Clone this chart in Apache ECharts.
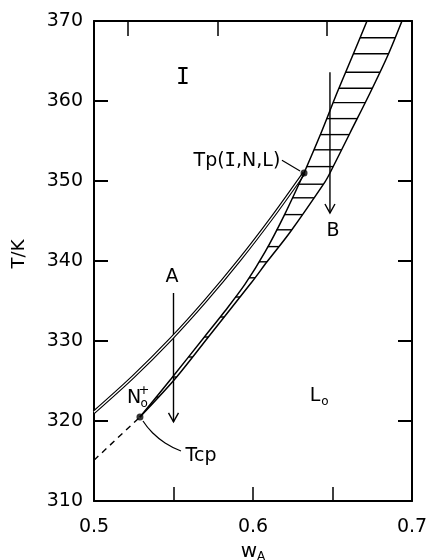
<!DOCTYPE html>
<html><head><meta charset="utf-8">
<script src="https://cdn.jsdelivr.net/npm/echarts@6/dist/echarts.min.js"></script>
<style>html,body{margin:0;padding:0;background:#fff}#c{width:427px;height:560px}</style>
</head><body><div id="c"></div>
<script>
// ---- data ----
const upperW = [0.5, 0.5245, 0.5484, 0.5698, 0.5918, 0.6119, 0.6321];
const upperT = [321.1, 325.5, 330.25, 334.95, 340.2, 345.4, 351.0];
const ilW = [0.6321, 0.6428, 0.6528, 0.6623, 0.6717];
const ilT = [351.0, 356.0, 361.0, 365.5, 370.0];
const lowerW = [0.5289, 0.5484, 0.5698, 0.5824, 0.5950, 0.6075, 0.6201, 0.6321];
const lowerT = [320.5, 325.25, 330.6, 333.75, 337.1, 341.1, 345.9, 351.0];
const rightW = [0.5289, 0.5509, 0.5723, 0.5994, 0.6088, 0.6233, 0.6453, 0.6484, 0.6610, 0.6736, 0.6849, 0.6937];
const rightT = [320.5, 325.25, 330.6, 337.4, 339.9, 343.6, 349.9, 351.0, 356.0, 361.0, 365.75, 370.0];
const dashW = [0.5, 0.5289];
const dashT = [315.1, 320.5];
const tcpLeaderW = [0.5308, 0.5365, 0.5447, 0.5547];
const tcpLeaderT = [320.0, 318.6, 317.25, 316.25];
const tpLeaderW = [0.6182, 0.6296];
const tpLeaderT = [352.6, 351.25];
const pointW = [0.5289, 0.6321];
const pointT = [320.5, 351.0];
const hatchT = [323, 325.5, 328, 330.5, 333, 335.5, 337.9, 339.9, 341.8, 343.9, 345.8, 347.9, 349.6, 351.8, 353.9, 355.8, 357.8, 359.8, 361.6, 363.6, 365.9, 367.9];
const arrowW = [0.55, 0.6484];
const arrowFrom = [336.0, 363.6];
const arrowTo = [319.9, 346.0];
const labelTexts = ['I', 'Tp({m|I},N,L)', 'A', 'B', 'N', 'Tcp', 'L'];
const labelW = [0.5560, 0.5899, 0.5491, 0.6503, 0.5252, 0.5673, 0.6390];
const labelT = [362.9, 352.5, 338.0, 343.75, 322.9, 315.6, 323.1];
const labelSup = ['', '', '', '', '+', '', ''];
const labelSub = ['', '', '', '', 'o', '', 'o'];
const xLabelValues = [0.5, 0.6, 0.7];
const topTickValues = [0.5214, 0.5777, 0.6463];

// ---- helpers ----
const FONT = 'DejaVu Sans';
const zip = (ws, ts) => ws.map((w, i) => [w, ts[i]]);
function interp(ws, ts, t) {
  for (let i = 0; i < ts.length - 1; i++) {
    if (t >= ts[i] && t <= ts[i + 1]) {
      const f = (t - ts[i]) / (ts[i + 1] - ts[i]);
      return ws[i] + f * (ws[i + 1] - ws[i]);
    }
  }
  return t < ts[0] ? ws[0] : ws[ws.length - 1];
}
const hatchData = hatchT.map(t => {
  const l = t <= 351 ? interp(lowerW, lowerT, t) : interp(ilW, ilT, t);
  return [l, t, interp(rightW, rightT, t)];
});
const arrowData = arrowW.map((w, i) => [w, arrowFrom[i], arrowTo[i]]);
const labelData = labelW.map((w, i) => [w, labelT[i], i]);

const lineS = (data, width, color, extra) => Object.assign({
  type: 'line', data: data, symbol: 'none', smooth: 0.3, silent: true,
  lineStyle: { width: width, color: color }
}, extra || {});

const chart = echarts.init(document.getElementById('c'), null, { renderer: 'canvas' });
chart.setOption({
  animation: false,
  backgroundColor: '#fff',
  grid: { left: 94, right: 15, top: 21, bottom: 59, containLabel: false, outerBoundsMode: 'none' },
  xAxis: [{
    type: 'value', min: 0.5, max: 0.7, interval: 0.05, position: 'bottom',
    name: 'w{a|A}', nameLocation: 'middle', nameGap: 39,
    nameTextStyle: { fontFamily: FONT, fontSize: 20, color: '#000', rich: { a: { fontFamily: FONT, fontSize: 12, color: '#000', padding: [10, 0, 0, 0] } } },
    axisLine: { lineStyle: { color: '#000', width: 2 } },
    axisTick: { inside: true, length: 14, lineStyle: { color: '#000', width: 1.5 } },
    axisLabel: { customValues: xLabelValues, margin: 17, fontFamily: FONT, fontSize: 19, color: '#000', formatter: v => v.toFixed(1) },
    splitLine: { show: false }
  }, {
    type: 'value', min: 0.5, max: 0.7, position: 'top',
    axisLine: { lineStyle: { color: '#000', width: 2 } },
    axisTick: { inside: true, length: 15, customValues: topTickValues, lineStyle: { color: '#000', width: 1.5 } },
    axisLabel: { show: false }, splitLine: { show: false }
  }],
  yAxis: [{
    type: 'value', min: 310, max: 370, interval: 10, position: 'left',
    name: 'T/K', nameLocation: 'middle', nameGap: 66, nameRotate: 90,
    nameTextStyle: { fontFamily: FONT, fontSize: 18, color: '#000', padding: [0, 0, 0, 14] },
    axisLine: { lineStyle: { color: '#000', width: 2 } },
    axisTick: { inside: true, length: 14, lineStyle: { color: '#000', width: 2 } },
    axisLabel: { margin: 11, fontFamily: FONT, fontSize: 19, color: '#000' },
    splitLine: { show: false }
  }, {
    type: 'value', min: 310, max: 370, interval: 10, position: 'right',
    axisLine: { show: true, lineStyle: { color: '#000', width: 2 } },
    axisTick: { show: true, inside: true, length: 14, lineStyle: { color: '#000', width: 2 } },
    axisLabel: { show: false }, splitLine: { show: false }
  }],
  series: [
    {
      type: 'custom', silent: true, data: hatchData, encode: { x: [0, 2], y: 1 },
      renderItem: (params, api) => {
        const p1 = api.coord([api.value(0), api.value(1)]);
        const p2 = api.coord([api.value(2), api.value(1)]);
        return { type: 'line', shape: { x1: p1[0], y1: p1[1], x2: p2[0], y2: p2[1] }, style: { stroke: '#000', lineWidth: 1.4 } };
      }
    },
    lineS(zip(upperW, upperT), 3.6, '#000'),
    lineS(zip(upperW, upperT), 1.3, '#fff'),
    lineS(zip(lowerW, lowerT), 1.5, '#000'),
    lineS(zip(rightW, rightT), 1.5, '#000'),
    lineS(zip(ilW, ilT), 1.5, '#000'),
    lineS(zip(dashW, dashT), 1.4, '#000', { smooth: false, lineStyle: { width: 1.4, color: '#000', type: [6, 5] } }),
    lineS(zip(tcpLeaderW, tcpLeaderT), 1.2, '#000', { smooth: 0.5 }),
    lineS(zip(tpLeaderW, tpLeaderT), 1.2, '#000', { smooth: false }),
    {
      type: 'custom', silent: true, data: arrowData, encode: { x: 0, y: [1, 2] },
      renderItem: (params, api) => {
        const a = api.coord([api.value(0), api.value(1)]);
        const b = api.coord([api.value(0), api.value(2)]);
        return {
          type: 'group', children: [
            { type: 'line', shape: { x1: a[0], y1: a[1], x2: b[0], y2: b[1] }, style: { stroke: '#000', lineWidth: 1.4 } },
            { type: 'polyline', shape: { points: [[b[0] - 5, b[1] - 9], [b[0], b[1]], [b[0] + 5, b[1] - 9]] }, style: { stroke: '#000', lineWidth: 1.4, fill: null } }
          ]
        };
      }
    },
    {
      type: 'scatter', silent: true, data: zip(pointW, pointT), symbol: 'circle', symbolSize: 7,
      itemStyle: { color: '#000' }, z: 5
    },
    {
      type: 'custom', silent: true, data: labelData, encode: { x: 0, y: 1 }, z: 6,
      renderItem: (params, api) => {
        const i = api.value(2);
        const p = api.coord([api.value(0), api.value(1)]);
        const txt = labelTexts[i];
        const isRoman = txt === 'I';
        const children = [{
          type: 'text', x: p[0], y: p[1],
          style: {
            text: txt, fill: '#000', align: 'center', verticalAlign: 'middle',
            fontFamily: isRoman ? 'DejaVu Sans Mono' : FONT,
            fontSize: isRoman ? 23 : 19,
            rich: { m: { fontFamily: 'DejaVu Sans Mono', fontSize: 19, fill: '#000' } }
          }
        }];
        if (labelSup[i]) children.push({ type: 'text', x: p[0] + 10, y: p[1] - 7, style: { text: labelSup[i], fill: '#000', fontFamily: FONT, fontSize: 13, align: 'center', verticalAlign: 'middle' } });
        if (labelSub[i]) children.push({ type: 'text', x: p[0] + 10, y: p[1] + 6, style: { text: labelSub[i], fill: '#000', fontFamily: FONT, fontSize: 12, align: 'center', verticalAlign: 'middle' } });
        return { type: 'group', children: children };
      }
    }
  ]
});
</script>
</body></html>
